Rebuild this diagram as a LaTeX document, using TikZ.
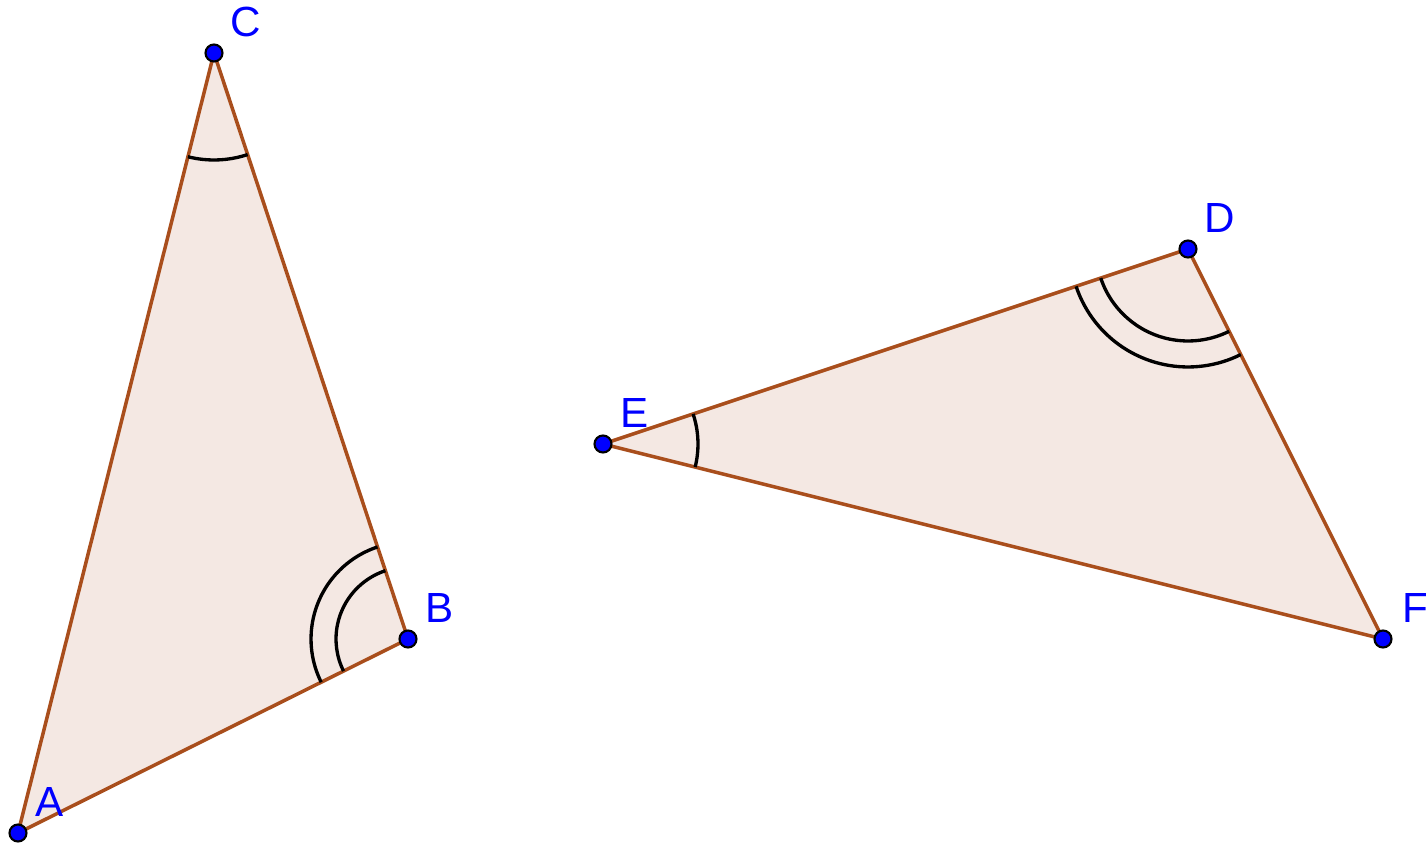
\documentclass[tikz,border=0pt]{standalone}
\usepackage{fontspec}
\setmainfont{Liberation Sans}
\usetikzlibrary{angles, calc}
\definecolor{cedge}{HTML}{A94E1C}
\definecolor{cfill}{HTML}{F4E8E3}
\definecolor{cpoint}{HTML}{0000FF}
\tikzset{
  every picture/.style={line width=2pt},
  tri/.style={draw=cedge, fill=cfill, line join=round},
  pt/.style={circle, draw=black, fill=cpoint, line width=1.2pt, inner sep=0pt, minimum size=0.34cm},
  lbl/.style={text=cpoint, font=\fontsize{24}{28}\selectfont, inner sep=0pt},
  angmark/.style={draw=black, line width=1.9pt},
}

\begin{document}
\begin{tikzpicture}[x=0.02cm, y=-0.02cm]
  \useasboundingbox (0,0) rectangle (1426,849);
  \coordinate (A) at (18,833);
  \coordinate (B) at (408,639);
  \coordinate (C) at (214,53);
  \coordinate (D) at (1188,249);
  \coordinate (E) at (603,444);
  \coordinate (F) at (1383,639);
  \draw[tri] (A) -- (B) -- (C) -- cycle;
  \draw[tri] (D) -- (E) -- (F) -- cycle;
  % equal angles: one arc at C and E, two arcs at B and D
  \pic[angmark, angle radius=2.14cm] {angle=A--C--B};
  \pic[angmark, angle radius=1.9cm] {angle=F--E--D};
  \pic[angmark, angle radius=1.44cm] {angle=C--B--A};
  \pic[angmark, angle radius=1.94cm] {angle=C--B--A};
  \pic[angmark, angle radius=1.84cm] {angle=E--D--F};
  \pic[angmark, angle radius=2.36cm] {angle=E--D--F};
  \foreach \p in {A,B,C,D,E,F} {
    \node[pt] (p\p) at (\p) {};
    \node[lbl] (l\p) at ([shift={(32,-31)}]\p) {\p};
  }
\end{tikzpicture}
\end{document}
